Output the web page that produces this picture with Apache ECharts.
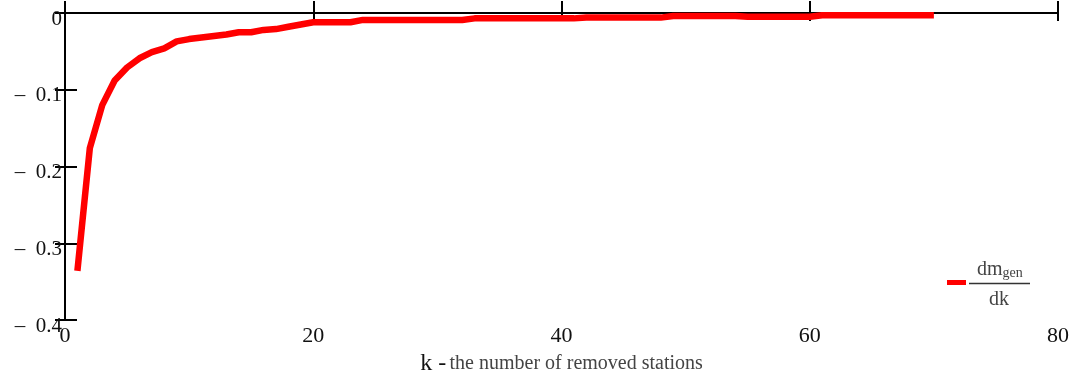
<!DOCTYPE html>
<html>
<head>
<meta charset="utf-8">
<script src="https://cdn.jsdelivr.net/npm/echarts@6/dist/echarts.min.js"></script>
<style>
    html, body { margin: 0; padding: 0; background: #fff; }
    #Root { width: 1075px; height: 374px; }
</style>
</head>
<body>
<div id="Root"></div>
<script>
// k - number of removed stations
let StationsRemoved = []
for (let k = 1; k <= 70; k++) StationsRemoved.push(k)

// dm_gen / dk
let DerivValues = [
    -0.336, -0.176, -0.120, -0.088, -0.071, -0.059, -0.051, -0.046, -0.037, -0.034,
    -0.032, -0.030, -0.028, -0.025, -0.025, -0.022, -0.021, -0.018, -0.015, -0.012,
    -0.012, -0.012, -0.012, -0.009, -0.009, -0.009, -0.009, -0.009, -0.009, -0.009,
    -0.009, -0.009, -0.007, -0.007, -0.007, -0.007, -0.007, -0.007, -0.007, -0.007,
    -0.007, -0.006, -0.006, -0.006, -0.006, -0.006, -0.006, -0.006, -0.004, -0.004,
    -0.004, -0.004, -0.004, -0.004, -0.005, -0.005, -0.005, -0.005, -0.005, -0.005,
    -0.003, -0.003, -0.003, -0.003, -0.003, -0.003, -0.003, -0.003, -0.003, -0.003
]

let XTicks = { min: 0, max: 80, interval: 20 }
let YTicks = { min: -0.4, max: 0, interval: 0.1 }

const SERIF = '"Liberation Serif", "DejaVu Serif", serif'

let Chart = echarts.init(document.getElementById("Root"))

let SeriesData = StationsRemoved.map((k, i) => [k, DerivValues[i]])

let AxisLineStyle = { lineStyle: { color: '#000', width: 2 } }

let Options = {
    animation: false,
    backgroundColor: '#fff',
    grid: { left: 65, right: 17, top: 13, bottom: 54, outerBoundsMode: 'none', containLabel: false },
    legend: {
        show: true,
        left: 942,
        top: 275,
        icon: 'rect',
        itemWidth: 19,
        itemHeight: 5,
        formatter: () => '',
        data: ['dmgen/dk']
    },
    xAxis: [
        {
            type: 'value',
            position: 'bottom',
            min: XTicks.min, max: XTicks.max, interval: XTicks.interval,
            axisLine: AxisLineStyle,
            axisTick: { inside: true, length: 12, lineStyle: { color: '#000', width: 2 } },
            splitLine: { show: false },
            axisLabel: { fontFamily: SERIF, fontSize: 22, color: '#111', margin: 5 },
            name: '{k|k -} {t|the number of removed stations}',
            nameLocation: 'middle',
            nameGap: 32,
            nameTextStyle: {
                rich: {
                    k: { fontFamily: SERIF, fontSize: 24, color: '#111' },
                    t: { fontFamily: SERIF, fontSize: 20, color: '#444' }
                }
            }
        },
        {
            type: 'value',
            position: 'top',
            min: XTicks.min, max: XTicks.max, interval: XTicks.interval,
            axisLine: AxisLineStyle,
            axisTick: { inside: true, length: 8, lineStyle: { color: '#000', width: 2 } },
            splitLine: { show: false },
            axisLabel: { show: false }
        }
    ],
    yAxis: [
        {
            type: 'value',
            position: 'left',
            min: YTicks.min, max: YTicks.max, interval: YTicks.interval,
            axisLine: AxisLineStyle,
            axisTick: { inside: true, length: 12, lineStyle: { color: '#000', width: 2 } },
            splitLine: { show: false },
            axisLabel: {
                fontFamily: SERIF, fontSize: 21, color: '#111', margin: 3,
                verticalAlign: 'top', lineHeight: 12,
                formatter: v => Math.abs(v) < 1e-9 ? '0' : '–  ' + Math.abs(v).toFixed(1)
            }
        },
        {
            type: 'value',
            position: 'right',
            min: YTicks.min, max: YTicks.max, interval: YTicks.interval,
            axisLine: AxisLineStyle,
            axisTick: { inside: true, length: 10, lineStyle: { color: '#000', width: 2 } },
            splitLine: { show: false },
            axisLabel: { show: false }
        }
    ],
    series: [
        {
            name: 'dmgen/dk',
            type: 'line',
            xAxisIndex: 0,
            yAxisIndex: 0,
            data: SeriesData,
            showSymbol: false,
            symbol: 'none',
            lineStyle: { color: '#ff0000', width: 6.5 },
            itemStyle: { color: '#ff0000' }
        }
    ],
    graphic: [
        {
            type: 'text',
            left: 977,
            top: 260,
            style: {
                text: '{a|dm}{b|gen}',
                rich: {
                    a: { fontFamily: SERIF, fontSize: 20, fill: '#444' },
                    b: { fontFamily: SERIF, fontSize: 14, fill: '#444', padding: [6, 0, 0, 0] }
                }
            }
        },
        {
            type: 'line',
            shape: { x1: 969, y1: 283.5, x2: 1030, y2: 283.5 },
            style: { stroke: '#333', lineWidth: 1.5 }
        },
        {
            type: 'text',
            left: 989,
            top: 290,
            style: { text: 'dk', fontFamily: SERIF, fontSize: 20, fill: '#444' }
        }
    ]
}

Chart.setOption(Options)
</script>
</body>
</html>
